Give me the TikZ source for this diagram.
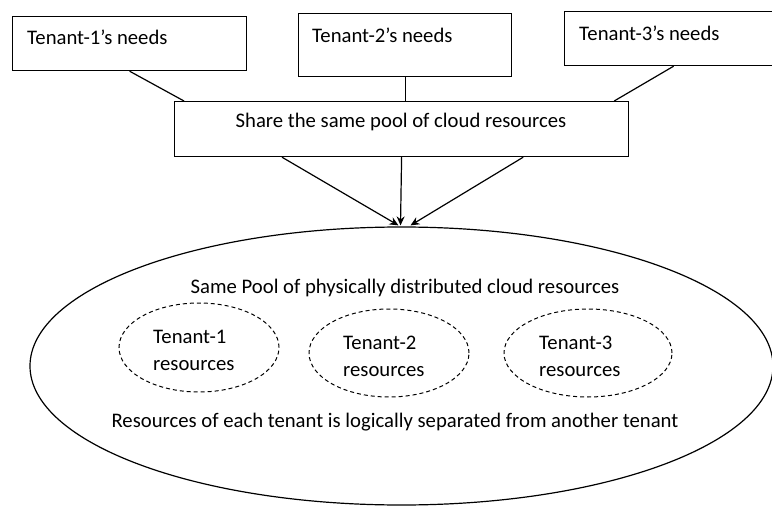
\documentclass[tikz,border=0pt]{standalone}
\usepackage{fontspec}
\setmainfont{Carlito}
\usetikzlibrary{calc,arrows.meta,shapes.geometric}
\begin{document}
\begin{tikzpicture}[x=1pt,y=-1pt,
  box/.style={draw, line width=1.2pt, rectangle, inner sep=0pt},
  lbl/.style={font=\fontsize{20.7}{27}\selectfont, inner sep=0pt, anchor=west},
  link/.style={line width=1.2pt},
  arr/.style={line width=1.2pt, -{Stealth[length=9pt,width=8pt]}},
  subpool/.style={draw, dash pattern=on 4pt off 3pt, line width=1pt, ellipse, inner sep=0pt},
]
\useasboundingbox (0,0) rectangle (772,506);
\begin{scope}
\clip (0,0) rectangle (772,506);
% top boxes
\node[box, minimum width=234pt, minimum height=54pt, anchor=north west] (t1) at (12,16) {};
\node[box, minimum width=213pt, minimum height=63pt, anchor=north west] (t2) at (298,13) {};
\node[box, minimum width=218pt, minimum height=54pt, anchor=north west] (t3) at (564,11) {};
\node[lbl] (t1l) at (27,37) {Tenant-1’s needs};
\node[lbl] (t2l) at (312,35) {Tenant-2’s needs};
\node[lbl] (t3l) at (579,33) {Tenant-3’s needs};
% share box
\node[box, minimum width=454pt, minimum height=55pt, anchor=north west] (sh) at (174,101) {};
\node[lbl, anchor=center] (shl) at (401,122) {Share the same pool of cloud resources};
% pool
\node[draw, ellipse, line width=1.2pt, minimum width=743pt, minimum height=278pt, inner sep=0pt] (pool) at (401.5,366) {};
\node[lbl, anchor=center] (pooll) at (405,288) {Same Pool of physically distributed cloud resources};
\node[lbl, anchor=center] (sepl) at (395,422) {Resources of each tenant is logically separated from another tenant};
% tenant sub pools
\node[subpool, minimum width=160pt, minimum height=89pt] (r1) at (199,347.5) {};
\node[subpool, minimum width=160pt, minimum height=88pt] (r2) at (389,353) {};
\node[subpool, minimum width=168pt, minimum height=88pt] (r3) at (588,353) {};
\node[lbl, align=left] (r1l) at (153,350) {Tenant-1\\resources};
\node[lbl, align=left] (r2l) at (343,356) {Tenant-2\\resources};
\node[lbl, align=left] (r3l) at (539,356) {Tenant-3\\resources};
% links
\draw[link] (t1.south) -- ($(sh.north west)+(10,0)$);
\draw[link] (t2.south) -- (t2.south |- sh.north);
\draw[link] (t3.south) -- ($(sh.north east)+(-15,0)$);
% arrows
\coordinate (p1) at ($(pool.north)+(-3,-1)$);
\coordinate (p2) at ($(pool.north)+(-1,-1)$);
\coordinate (p3) at ($(pool.north)+(9,-1)$);
\draw[arr] ($(sh.south west)+(108,0)$) -- (p1);
\draw[arr] (sh.south) -- (p2);
\draw[arr] ($(sh.south east)+(-106,0)$) -- (p3);
\end{scope}
\end{tikzpicture}
\end{document}
